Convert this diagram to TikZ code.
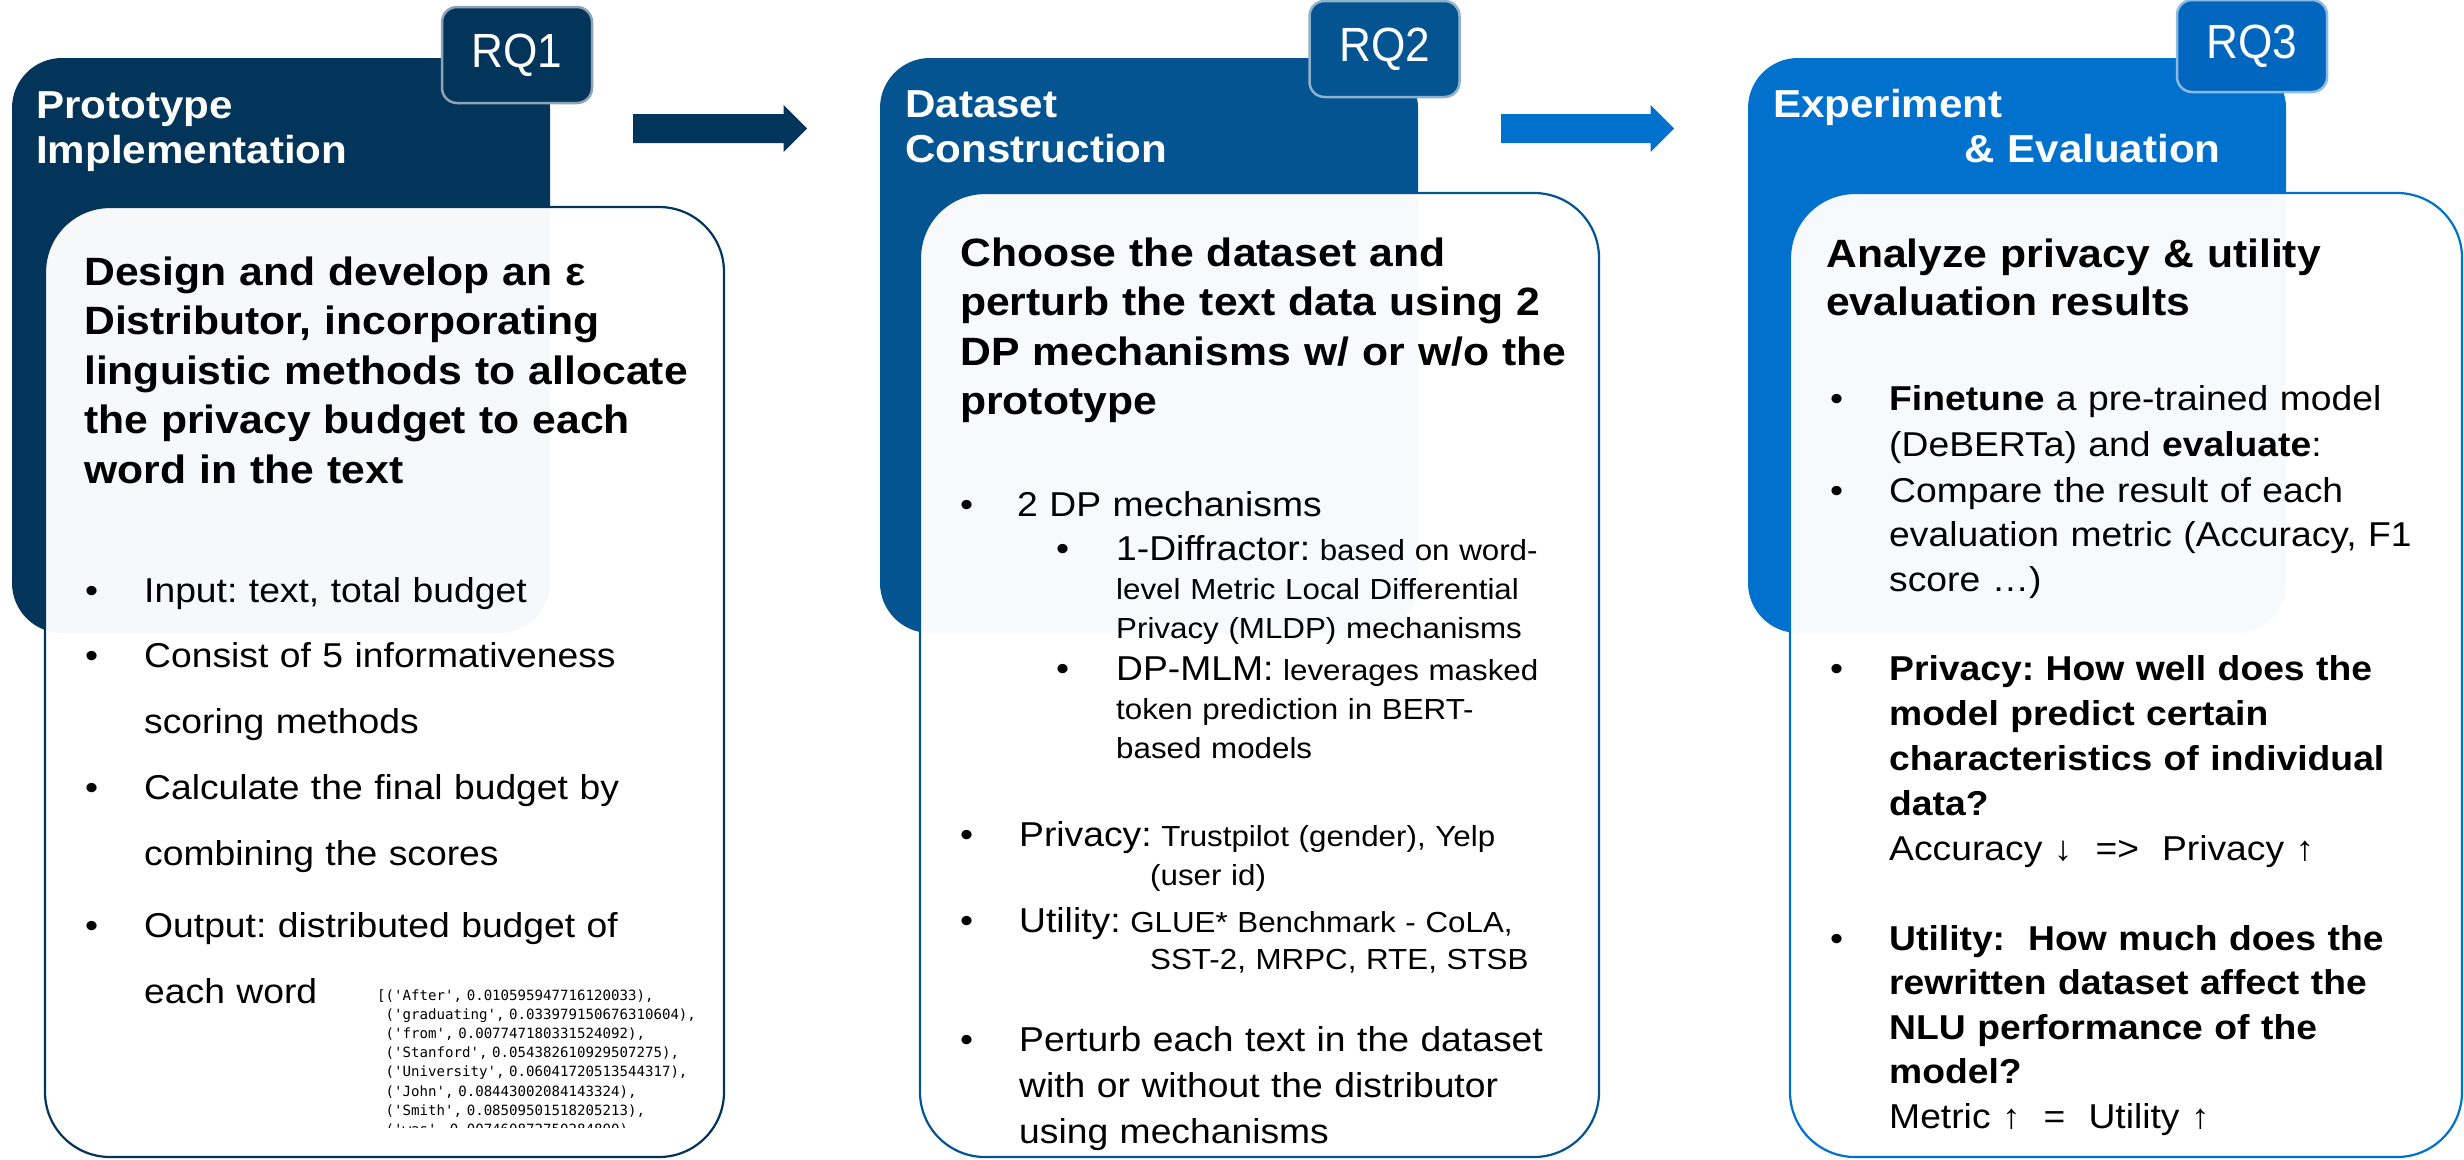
\documentclass[tikz,border=0pt]{standalone}
\usepackage{fontspec}
\setmainfont{Liberation Sans}[FakeStretch=1.08]
\newfontfamily\rqfont{Liberation Sans}[FakeStretch=0.92]
\setmonofont{DejaVu Sans Mono}
\usetikzlibrary{calc}

\definecolor{navy}{RGB}{3,53,90}
\definecolor{midblue}{RGB}{4,84,146}
\definecolor{brightblue}{RGB}{0,114,206}
\definecolor{rqthree}{RGB}{0,102,190}

\tikzset{
  panel/.style={rectangle, rounded corners=50pt, inner sep=0pt, outer sep=0pt,
    anchor=north west, minimum width=538pt, minimum height=575pt},
  rqbox/.style={rectangle, rounded corners=15pt, line width=2.5pt, inner sep=0pt,
    minimum width=150pt, text=white, font=\rqfont\fontsize{48pt}{50pt}\selectfont},
  card/.style={rectangle, rounded corners=65pt, fill=white, fill opacity=0.97,
    line width=2.2pt, inner sep=0pt, outer sep=0pt, anchor=north west},
  paneltitle/.style={anchor=base west, inner sep=0pt, text=white, align=left,
    text width=600pt, font=\bfseries\fontsize{39pt}{45.5pt}\selectfont},
  headline/.style={anchor=base west, inner sep=0pt, align=left, text width=650pt,
    font=\bfseries\fontsize{39.5pt}{49.5pt}\selectfont},
  bodytext/.style={anchor=base west, inner sep=0pt, align=left, text width=650pt,
    font=\fontsize{34.5pt}{46pt}\selectfont},
  smalltext/.style={anchor=base west, inner sep=0pt, align=left, text width=650pt,
    font=\fontsize{29pt}{39pt}\selectfont},
  bulletmark/.style={anchor=base west, inner sep=0pt, font=\fontsize{34.5pt}{40pt}\selectfont},
  codetext/.style={anchor=base west, inner sep=0pt, align=left, text width=400pt,
    font=\ttfamily\fontsize{14.1pt}{19.2pt}\selectfont},
}

% block arrow between two named coordinates
\newcommand\blockarrow[3]{%
  \fill[#1] ($(#2)+(0,-14.5)$) -- ($(#3)+(-23.5,-14.5)$) -- ($(#3)+(-23.5,-23.5)$)
    -- (#3) -- ($(#3)+(-23.5,23.5)$) -- ($(#3)+(-23.5,14.5)$) -- ($(#2)+(0,14.5)$) -- cycle;}

\begin{document}
\frenchspacing
\begin{tikzpicture}[x=1pt, y=-1pt]
\useasboundingbox (0,0) rectangle (2464,1159);

% ---------------- Stage 1: prototype implementation ----------------
\node[panel, fill=navy] (p1) at (12,58) {};
\node[paneltitle] (t1) at (36,118) {Prototype\\Implementation};
\node[rqbox, fill=navy, draw=navy!45!white, minimum height=96pt] (rq1) at (517,55) {RQ1};
\node[card, draw=navy, minimum width=679pt, minimum height=950pt] (c1) at (45,207) {};
\node[headline] (h1) at (84,285) {Design and develop an ε\\Distributor, incorporating\\linguistic methods to allocate\\the privacy budget to each\\word in the text};
\begin{scope}[bodytext/.append style={font=\fontsize{34.5pt}{66pt}\selectfont}]
\node[bulletmark] (d1a) at (85,602) {•};
\node[bodytext] (b1a) at (144,602) {Input: text, total budget};
\node[bulletmark] (d1b) at (85,667) {•};
\node[bodytext] (b1b) at (144,667) {Consist of 5 informativeness\\scoring methods};
\node[bulletmark] (d1c) at (85,799) {•};
\node[bodytext] (b1c) at (144,799) {Calculate the final budget by\\combining the scores};
\node[bulletmark] (d1d) at (85,937) {•};
\node[bodytext] (b1d) at (144,937) {Output: distributed budget of\\each word};
\end{scope}
\begin{scope}
\clip (370,980) rectangle (730,1127);
\node[codetext] (code) at (377,1000) {[('After', 0.010595947716120033),\\
\phantom{[}('graduating', 0.033979150676310604),\\
\phantom{[}('from', 0.007747180331524092),\\
\phantom{[}('Stanford', 0.054382610929507275),\\
\phantom{[}('University', 0.06041720513544317),\\
\phantom{[}('John', 0.08443002084143324),\\
\phantom{[}('Smith', 0.08509501518205213),\\
\phantom{[}('was', 0.007460872750284800),};
\end{scope}

% ---------------- Stage 2: dataset construction ----------------
\node[panel, fill=midblue] (p2) at (880,58) {};
\node[paneltitle] (t2) at (905,117) {Dataset\\Construction};
\node[rqbox, fill=midblue, draw=midblue!45!white, minimum height=96pt] (rq2) at (1384.5,49) {RQ2};
\node[card, draw=midblue, minimum width=679pt, minimum height=964pt] (c2) at (920,193) {};
\node[headline] (h2) at (960,266) {Choose the dataset and\\perturb the text data using 2\\DP mechanisms w/ or w/o the\\prototype};
\node[bulletmark] (d2a) at (960,516) {•};
\node[bodytext] (b2a) at (1017,516) {2 DP mechanisms};
\node[bulletmark] (d2b) at (1056,560) {•};
\node[smalltext] (b2b) at (1116,560) {{\fontsize{34.5pt}{39pt}\selectfont 1-Diffractor:} based on word-\\level Metric Local Differential\\Privacy (MLDP) mechanisms};
\node[bulletmark] (d2c) at (1056,680) {•};
\node[smalltext] (b2c) at (1116,680) {{\fontsize{34.5pt}{39pt}\selectfont DP-MLM:} leverages masked\\token prediction in BERT-\\based models};
\node[bulletmark] (d2d) at (960,846) {•};
\node[smalltext] (b2d) at (1019,846) {{\fontsize{34.5pt}{39pt}\selectfont Privacy:} Trustpilot (gender), Yelp\\\hspace*{131pt}(user id)};
\node[bulletmark] (d2e) at (960,932) {•};
\node[smalltext, font=\fontsize{29pt}{37.5pt}\selectfont] (b2e) at (1019,932) {{\fontsize{34.5pt}{37.5pt}\selectfont Utility:} GLUE* Benchmark - CoLA,\\\hspace*{131pt}SST-2, MRPC, RTE, STSB};
\node[bulletmark] (d2f) at (960,1051) {•};
\node[bodytext] (b2f) at (1019,1051) {Perturb each text in the dataset\\with or without the distributor\\using mechanisms};

% ---------------- Stage 3: experiment and evaluation ----------------
\node[panel, fill=brightblue] (p3) at (1748,58) {};
\node[paneltitle] (t3) at (1773,117) {Experiment\\\hspace*{191pt}\& Evaluation};
\node[rqbox, fill=rqthree, draw=rqthree!45!white, minimum height=92pt] (rq3) at (2252,46) {RQ3};
\node[card, draw=brightblue, minimum width=672pt, minimum height=964pt] (c3) at (1790,193) {};
\node[headline, font=\bfseries\fontsize{39.5pt}{48pt}\selectfont] (h3) at (1826,267) {Analyze privacy \& utility\\evaluation results};
\node[bulletmark] (d3a) at (1830,410) {•};
\node[bodytext] (b3a) at (1889,410) {\textbf{Finetune} a pre-trained model\\(DeBERTa) and \textbf{evaluate}:};
\node[bulletmark] (d3b) at (1830,502) {•};
\node[bodytext, font=\fontsize{34.5pt}{44.5pt}\selectfont] (b3b) at (1889,502) {Compare the result of each\\evaluation metric (Accuracy, F1\\score …)};
\node[bulletmark] (d3c) at (1830,680) {•};
\node[bodytext, font=\fontsize{34.5pt}{45.2pt}\selectfont] (b3c) at (1889,680) {\textbf{Privacy: How well does the}\\\textbf{model predict certain}\\\textbf{characteristics of individual}\\\textbf{data?}\\Accuracy ↓\ \ =>\ \ Privacy ↑};
\node[bulletmark] (d3d) at (1830,950) {•};
\node[bodytext, font=\fontsize{34.5pt}{44.5pt}\selectfont] (b3d) at (1889,950) {\textbf{Utility:\ \ How much does the}\\\textbf{rewritten dataset affect the}\\\textbf{NLU performance of the}\\\textbf{model?}\\Metric ↑\ \ =\ \ Utility ↑};

% ---------------- arrows between stages ----------------
\coordinate (a1s) at (633,128.5);
\coordinate (a1e) at (807,128.5);
\coordinate (a2s) at (1501,128.5);
\coordinate (a2e) at (1674,128.5);
\blockarrow{navy}{a1s}{a1e}
\blockarrow{brightblue}{a2s}{a2e}
\end{tikzpicture}
\end{document}
